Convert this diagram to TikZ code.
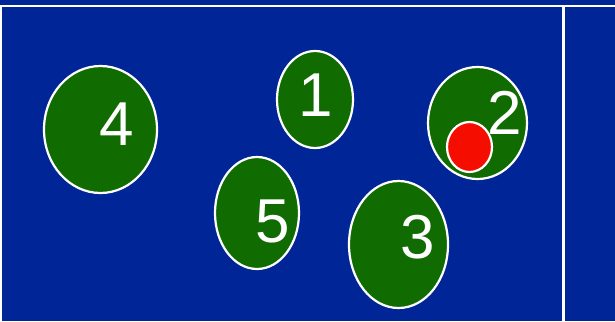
\documentclass[tikz,border=0pt]{standalone}
\usepackage{fontspec}
\setmainfont{Liberation Sans}
\usepackage{tikz}
\usetikzlibrary{shapes.geometric}

\definecolor{fieldblue}{RGB}{0,37,150}
\definecolor{playergreen}{RGB}{16,107,0}
\definecolor{ballred}{RGB}{245,14,0}

\begin{document}
\begin{tikzpicture}[
        x=1pt, y=-1pt,
        player/.style={
            ellipse,
            draw=white,
            line width=2.2pt,
            fill=playergreen,
            inner sep=0pt
        },
        num/.style={
            text=white,
            inner sep=0pt,
            font=\fontsize{62}{62}\selectfont
        },
        ball/.style={
            ellipse,
            draw=white,
            line width=2.2pt,
            fill=ballred,
            inner sep=0pt,
            minimum width=45pt,
            minimum height=50pt
        },
        fieldline/.style={white, line width=2.4pt}
    ]
        \fill[fieldblue] (0,0) rectangle (615,321);
        \useasboundingbox (0,0) rectangle (615,321);
        % field lines
        \draw[fieldline] (0,6) -- (615,6);
        \draw[fieldline] (1,6) -- (1,321);
        \draw[fieldline] (563.5,6) -- (563.5,321);
        % players
        \node[player, minimum width=76pt, minimum height=97pt] (p1) at (315,99.5) {};
        \node[player, minimum width=99pt, minimum height=112pt] (p2) at (477.5,123) {};
        \node[player, minimum width=99pt, minimum height=127pt] (p3) at (398.5,244.5) {};
        \node[player, minimum width=113pt, minimum height=127pt] (p4) at (100.5,129.5) {};
        \node[player, minimum width=84pt, minimum height=112pt] (p5) at (257,213) {};
        \node[num] (n1) at (316,95.5) {1};
        \node[num] (n2) at (505,113) {2};
        \node[num] (n3) at (418,237.5) {3};
        \node[num] (n4) at (116.5,124.5) {4};
        \node[num] (n5) at (273,221) {5};
        % ball
        \node[ball] (b) at (469.5,147) {};
    \end{tikzpicture}
\end{document}
